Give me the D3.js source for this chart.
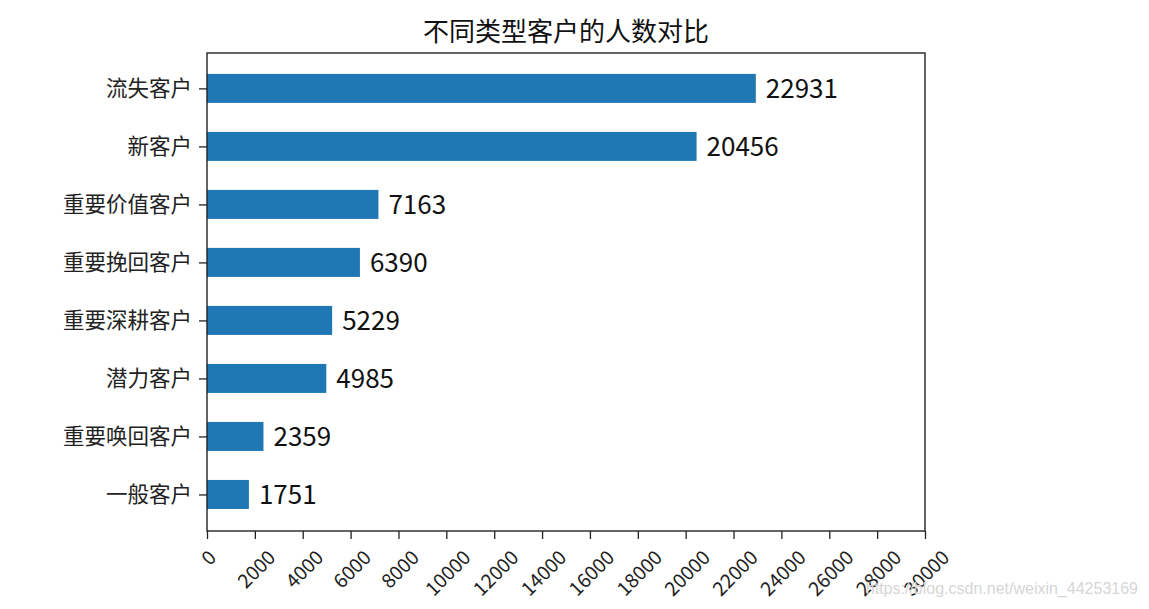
<!DOCTYPE html>
<html>
<head>
<meta charset="utf-8">
<script src="https://cdn.jsdelivr.net/npm/d3@7"></script>
<style>
  html, body { margin: 0; padding: 0; background: #fff; }
  svg { display: block; }
</style>
</head>
<body>
<svg id="chart" width="1149" height="609"></svg>
<script>
// ---- data ----
const categories = ["一般客户", "重要唤回客户", "潜力客户", "重要深耕客户", "重要挽回客户", "重要价值客户", "新客户", "流失客户"];
const counts = [1751, 2359, 4985, 5229, 6390, 7163, 20456, 22931];
const xTicks = [0, 2000, 4000, 6000, 8000, 10000, 12000, 14000, 16000, 18000, 20000, 22000, 24000, 26000, 28000, 30000];
const titleText = "不同类型客户的人数对比";
const watermark = "https://blog.csdn.net/weixin_44253169";

(function () {
const svg = d3.select("#chart");
const mLeft = 207, mRight = 925, mTop = 53, mBottom = 531;
const cjk = "'Noto Sans CJK SC', 'Noto Sans', sans-serif";
const digits = "'Noto Sans CJK SC', sans-serif";

const x = d3.scaleLinear().domain([0, 30000]).range([mLeft, mRight]);
const y = d3.scaleLinear().domain([-0.63, categories.length - 1 + 0.61]).range([mBottom, mTop]);
const barH = Math.abs(y(0.25) - y(-0.25));

// bars
svg.append("g").selectAll("rect").data(counts).join("rect")
  .attr("x", x(0))
  .attr("y", (d, i) => y(i) - barH / 2)
  .attr("width", d => x(d) - x(0))
  .attr("height", barH)
  .attr("fill", "#1f77b4");

// value labels
svg.append("g").selectAll("text").data(counts).join("text")
  .attr("x", d => x(d) + 10)
  .attr("y", (d, i) => y(i))
  .attr("dy", "0.36em")
  .attr("font-family", digits)
  .attr("font-size", 26)
  .attr("fill", "#111")
  .text(d => d);

// frame
svg.append("rect")
  .attr("x", mLeft).attr("y", mTop)
  .attr("width", mRight - mLeft).attr("height", mBottom - mTop)
  .attr("fill", "none").attr("stroke", "#222").attr("stroke-width", 1.4);

// y axis
const yAxis = d3.axisLeft(y)
  .tickValues(d3.range(categories.length))
  .tickFormat(i => categories[i])
  .tickSize(8).tickPadding(7);
const gy = svg.append("g").attr("transform", `translate(${mLeft},0)`).call(yAxis);
gy.select(".domain").remove();
gy.selectAll(".tick line").attr("stroke", "#222").attr("stroke-width", 1.3);
gy.selectAll(".tick text")
  .attr("font-family", cjk).attr("font-size", 21.5).attr("fill", "#222");

// x axis
const xAxis = d3.axisBottom(x).tickValues(xTicks).tickFormat(d => d).tickSize(8);
const gx = svg.append("g").attr("transform", `translate(0,${mBottom})`).call(xAxis);
gx.select(".domain").remove();
gx.selectAll(".tick line").attr("stroke", "#222").attr("stroke-width", 1.3);
const fs = 19.5;
gx.selectAll(".tick text")
  .attr("font-family", digits).attr("font-size", fs).attr("fill", "#222")
  .attr("text-anchor", "middle").attr("dy", null).attr("dominant-baseline", "central")
  .each(function () {
    const w = this.getComputedTextLength();
    const h = fs * 1.0;
    const cy = 15 + (w + h) / (2 * Math.SQRT2);
    d3.select(this).attr("y", null).attr("transform", `translate(0,${cy}) rotate(-45)`);
  });

// title
svg.append("text")
  .attr("x", (mLeft + mRight) / 2).attr("y", 41)
  .attr("text-anchor", "middle")
  .attr("font-family", cjk).attr("font-size", 26).attr("fill", "#111")
  .text(titleText);

// watermark
svg.append("text")
  .attr("x", 1138).attr("y", 594)
  .attr("text-anchor", "end")
  .attr("font-family", "'Liberation Sans', Arial, sans-serif").attr("font-size", 16)
  .attr("fill", "#d6d6d6")
  .text(watermark);
})();
</script>
</body>
</html>
